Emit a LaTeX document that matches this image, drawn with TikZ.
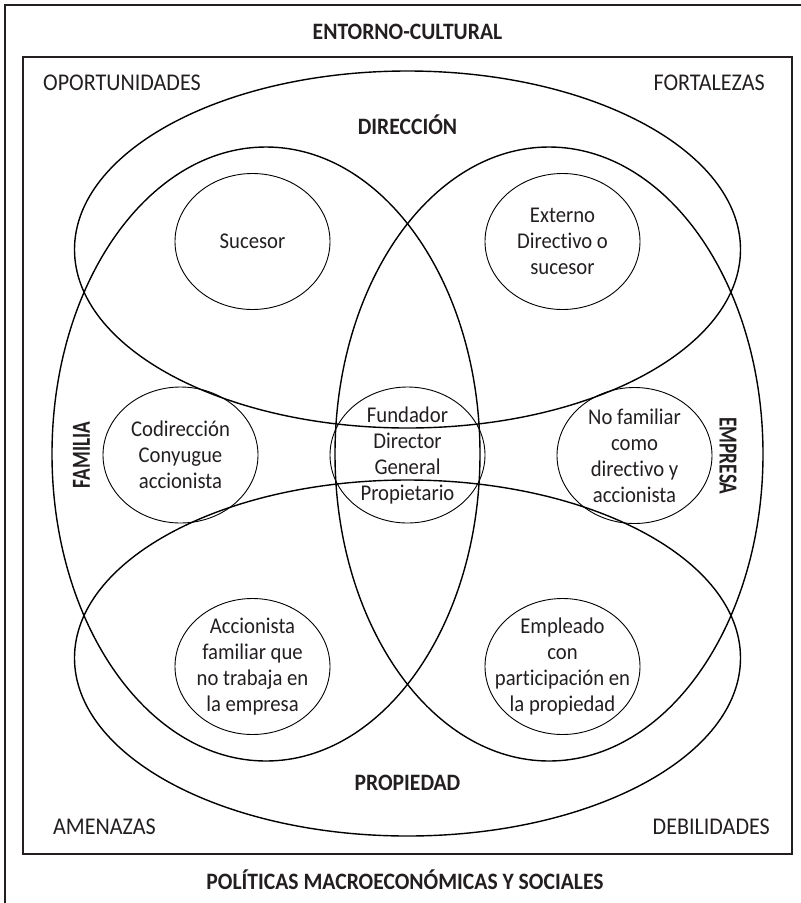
\documentclass[tikz,border=0pt]{standalone}
\usepackage{fontspec}
\setmainfont[Ligatures={NoCommon,NoRare,NoContextual}]{Carlito}
\newfontfamily\fnarrow[FakeStretch=0.92, Ligatures={NoCommon,NoRare,NoContextual}]{Carlito}
\newfontfamily\fcond[FakeStretch=0.74, Ligatures={NoCommon,NoRare,NoContextual}]{Carlito}
\usetikzlibrary{shapes.geometric}
\definecolor{ink}{HTML}{231F20}
\begin{document}
\begin{tikzpicture}[x=1pt,y=-1pt,
  big/.style={line width=1.4pt, draw=black},
  small/.style={draw=black, line width=0.9pt, ellipse, minimum width=155pt, minimum height=136pt, inner sep=0pt},
  lbl/.style={text=ink, align=center, font=\fnarrow\fontsize{22.5}{26}\selectfont, inner sep=0pt},
  caps/.style={text=ink, font=\fnarrow\fontsize{24}{26}\selectfont, text height=15.5pt, text depth=0pt, inner sep=0pt},
  capsb/.style={text=ink, font=\fnarrow\fontsize{23.5}{26}\selectfont\bfseries, text height=15.1pt, text depth=0pt, inner sep=0pt},
  rotb/.style={text=ink, font=\fcond\fontsize{26}{28}\selectfont\bfseries, text height=16.7pt, text depth=0pt, inner sep=0pt},
  frame/.style={line width=1.2pt, draw=ink}]
\useasboundingbox (0,0) rectangle (801,903);
% frames
\draw[frame] (5,903) -- (5,5) -- (801,5);
\draw[frame] (23,57) rectangle (792,854);
% big ellipses
\draw[big] (407.5,249.5) ellipse [x radius=333, y radius=178.5];
\draw[big] (407.5,658) ellipse [x radius=333, y radius=178];
\draw[big] (266,454) ellipse [x radius=214, y radius=307];
\draw[big] (549,454) ellipse [x radius=214, y radius=307];
% small ellipses
\node[small] (suc) at (252.5,241.5) {};
\node[small] (ext) at (562.5,241.5) {};
\node[small] (cod) at (180.5,455) {};
\node[small] (fun) at (407.5,455) {};
\node[small] (nof) at (634.5,455.5) {};
\node[small] (acc) at (252.5,666.5) {};
\node[small] (emp) at (562.5,666.5) {};
\node[lbl] (tsuc) at (suc) {Sucesor};
\node[lbl] (text) at (ext) {Externo\\Directivo o\\sucesor};
\node[lbl] (tcod) at (cod) {Codirección\\Conyugue\\accionista};
\node[lbl] (tfun) at (fun) {Fundador\\Director\\General\\Propietario};
\node[lbl] (tnof) at (nof) {No familiar\\como\\directivo y\\accionista};
\node[lbl] (tacc) at (acc) {Accionista\\familiar que\\no trabaja en\\la empresa};
\node[lbl] (temp) at (emp) {Empleado\\con\\participación en\\la propiedad};
% labels
\node[capsb] (ent) at (407.5,32) {ENTORNO-CULTURAL};
\node[capsb] (pol) at (405,882) {POLÍTICAS MACROECONÓMICAS Y SOCIALES};
\node[capsb] (dir) at (407.5,127) {DIRECCIÓN};
\node[capsb] (pro) at (407.5,783) {PROPIEDAD};
\node[rotb, rotate=90] (fam) at (81.5,455) {FAMILIA};
\node[rotb, rotate=-90] (empr) at (728,456) {EMPRESA};
\node[caps, anchor=west] (opo) at (43,83) {OPORTUNIDADES};
\node[caps, anchor=east] (for) at (765,83) {FORTALEZAS};
\node[caps, anchor=west] (ame) at (53,827) {AMENAZAS};
\node[caps, anchor=east] (deb) at (770,827) {DEBILIDADES};
\end{tikzpicture}
\end{document}
